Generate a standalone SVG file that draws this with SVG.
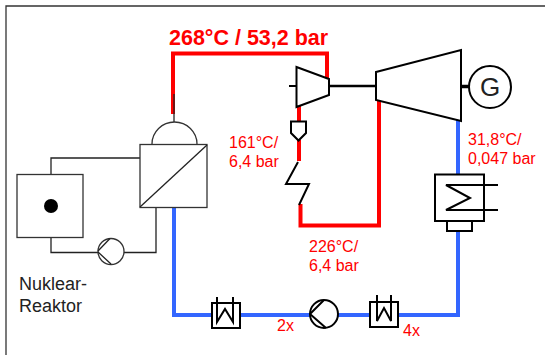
<svg xmlns="http://www.w3.org/2000/svg" width="545" height="355" viewBox="0 0 545 355">
<style>
text{font-family:"Liberation Sans",Arial,sans-serif}
.lbl{font-size:16px;fill:#ff0000}
.blk{font-size:18px;fill:#222}
.k{fill:none;stroke:#000;stroke-width:2}
.k1{fill:none;stroke:#222;stroke-width:1.3}
.w{fill:#fff;stroke:#000;stroke-width:2}
.w1{fill:#fff;stroke:#333;stroke-width:1.3}
.red{fill:none;stroke:#ff0000;stroke-width:4}
.blue{fill:none;stroke:#3366ff;stroke-width:4}
</style>
<rect width="545" height="355" fill="#fff"/>
<path d="M6 355V6H545" fill="none" stroke="#333" stroke-width="1.3"/>
<g id="connectors">
<path class="red" d="M173 114V53.500H327V80"/>
<path class="red" d="M299 106V122M299 140V161"/>
<path class="red" d="M300.500 204V225.500H379V100"/>
<path class="blue" d="M174 208V315H458V231"/>
<path class="blue" d="M458 120V175"/>
<path class="k1" d="M174 94V122"/>
<path class="k" d="M289 86H297"/>
<path class="k" style="stroke-width:2.500" d="M329 86H377"/>
<path class="k" style="stroke-width:3.500" d="M461 86.500H470"/>
<path class="k1" d="M140 158H51V174M156 208V252.500H124M51 238V252.500H98"/>
</g>
<g id="reactor"><rect class="w1" x="17" y="174.500" width="66" height="63"/><circle cx="51" cy="206" r="7" fill="#000"/></g>
<g id="reactor-pump"><circle class="w1" cx="111" cy="251.500" r="13"/><path class="k1" d="M98 251L110 238.500M98 252L111 264"/></g>
<g id="steam-generator"><path class="w1" d="M152 144A22.500 22 0 0 1 197 144"/><rect class="w1" x="140" y="144.500" width="67" height="63"/><path class="k1" d="M140 207L207 145"/></g>
<g id="hp-turbine"><path class="w" d="M296.500 67L329 79V95L296.500 107Z"/></g>
<g id="lp-turbine"><path class="w" d="M376 72L461 50V121L376 100Z"/></g>
<g id="generator"><circle class="w" cx="490" cy="87" r="21"/><text x="490" y="96" text-anchor="middle" font-size="26" fill="#222">G</text></g>
<g id="valve"><path class="w" d="M291 121.500H306V133L298.500 140.500L291 133Z"/></g>
<g id="reheater"><path class="k" d="M298 162L286 184H309L299 205"/></g>
<g id="condenser"><rect class="w" x="435" y="174.500" width="49" height="46.500"/><rect class="w" x="447" y="221" width="25" height="10"/><path class="k" d="M498 185H446L470 198L446 210H498"/></g>
<g id="preheater-1"><rect class="w" x="212" y="303" width="28" height="25"/><path class="k" d="M217 297V322L225 309L233 322V297"/></g>
<g id="feed-pump"><circle class="w" cx="324" cy="314" r="14"/><path class="k" d="M310 314L324 300M310 314L326 328"/></g>
<g id="preheater-2"><rect class="w" x="370" y="302" width="28" height="25"/><path class="k" d="M377 295V321L384 308L391 321V295"/></g>
<g id="labels">
<text x="169" y="45" font-size="21.500" font-weight="bold" fill="#ff0000">268°C / 53,2 bar</text>
<text class="lbl" x="229" y="148">161°C/</text><text class="lbl" x="229" y="167">6,4 bar</text>
<text class="lbl" x="468" y="145">31,8°C/</text><text class="lbl" x="468" y="164">0,047 bar</text>
<text class="lbl" x="309" y="252">226°C/</text><text class="lbl" x="309" y="271">6,4 bar</text>
<text class="lbl" x="277" y="331">2x</text><text class="lbl" x="403" y="336">4x</text>
<text class="blk" x="19" y="290">Nuklear-</text><text class="blk" x="19" y="312">Reaktor</text>
</g>
</svg>
